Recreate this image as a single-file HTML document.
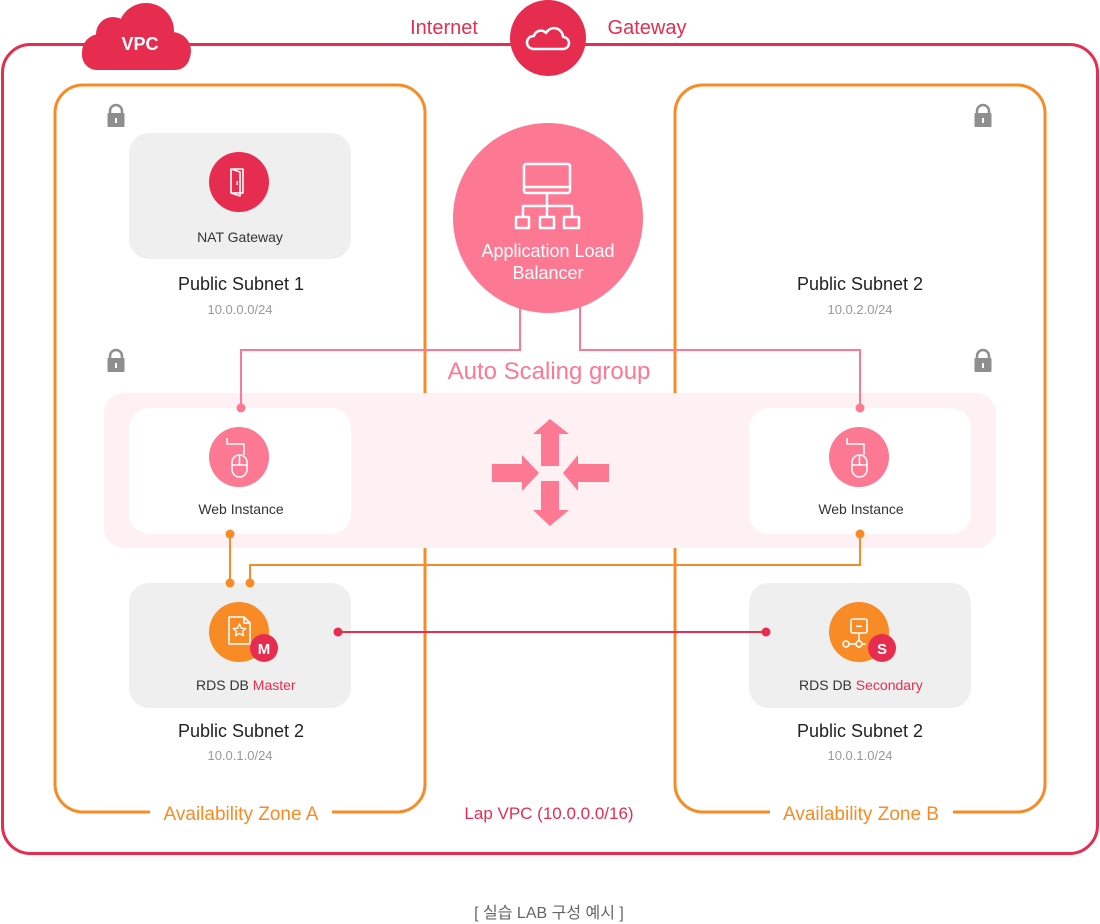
<!DOCTYPE html>
<html><head><meta charset="utf-8"><style>
html,body{margin:0;padding:0;background:#fff;}
svg{display:block;}
text{font-family:"Liberation Sans","Noto Sans CJK KR",sans-serif;}
</style></head><body>
<svg width="1100" height="924" viewBox="0 0 1100 924" xmlns="http://www.w3.org/2000/svg">
<!-- VPC outer -->
<rect x="2.5" y="44.5" width="1095" height="809" rx="28" fill="none" stroke="#e62c4f" stroke-width="3"/>
<!-- AZ A / B -->
<rect x="55" y="85" width="370" height="727" rx="28" fill="none" stroke="#f98b26" stroke-width="3"/>
<rect x="675" y="85" width="370" height="727" rx="28" fill="none" stroke="#f98b26" stroke-width="3"/>
<rect x="150" y="804" width="182" height="18" fill="#fff"/>
<rect x="770" y="804" width="183" height="18" fill="#fff"/>
<text x="241" y="820" font-size="19" fill="#f98b26" text-anchor="middle">Availability Zone A</text>
<text x="861" y="820" font-size="19" fill="#f98b26" text-anchor="middle">Availability Zone B</text>
<text x="549" y="819" font-size="17" fill="#e62c4f" text-anchor="middle">Lap VPC (10.0.0.0/16)</text>

<!-- VPC cloud -->
<g fill="#e62c4f">
<rect x="82" y="40" width="108" height="30" rx="15"/>
<circle cx="113" cy="34" r="17"/>
<circle cx="146" cy="31" r="28"/>
<circle cx="172" cy="51" r="19"/>
<circle cx="100" cy="52" r="18"/>
</g>
<text x="140" y="50" font-size="18" font-weight="bold" fill="#fff" text-anchor="middle">VPC</text>

<!-- Internet gateway -->
<text x="444" y="34" font-size="20" fill="#e62c4f" text-anchor="middle">Internet</text>
<text x="647" y="34" font-size="20" fill="#e62c4f" text-anchor="middle">Gateway</text>
<circle cx="548" cy="38" r="38" fill="#e62c4f"/>
<path d="M533 49 h30 a6 6 0 0 0 0 -12 a9 9 0 0 0 -17 -4 a7 7 0 0 0 -12 3 a6.5 6.5 0 0 0 -1 13 z" fill="none" stroke="#fff" stroke-width="2.5" stroke-linejoin="round"/>

<!-- locks -->
<g fill="#8e8e8e">
<path d="M110 114 v-3 a6 6 0 0 1 12 0 v3" fill="none" stroke="#8e8e8e" stroke-width="2.5"/>
<rect x="107.5" y="113" width="17" height="14" rx="1"/>
<rect x="115" y="118" width="2" height="5" fill="#fff"/>
</g>
<g fill="#8e8e8e" transform="translate(0,245)">
<path d="M110 114 v-3 a6 6 0 0 1 12 0 v3" fill="none" stroke="#8e8e8e" stroke-width="2.5"/>
<rect x="107.5" y="113" width="17" height="14" rx="1"/>
<rect x="115" y="118" width="2" height="5" fill="#fff"/>
</g>
<g fill="#8e8e8e" transform="translate(867,0)">
<path d="M110 114 v-3 a6 6 0 0 1 12 0 v3" fill="none" stroke="#8e8e8e" stroke-width="2.5"/>
<rect x="107.5" y="113" width="17" height="14" rx="1"/>
<rect x="115" y="118" width="2" height="5" fill="#fff"/>
</g>
<g fill="#8e8e8e" transform="translate(867,245)">
<path d="M110 114 v-3 a6 6 0 0 1 12 0 v3" fill="none" stroke="#8e8e8e" stroke-width="2.5"/>
<rect x="107.5" y="113" width="17" height="14" rx="1"/>
<rect x="115" y="118" width="2" height="5" fill="#fff"/>
</g>

<!-- NAT Gateway -->
<rect x="129" y="133" width="222" height="126" rx="20" fill="#efefef"/>
<circle cx="239" cy="182" r="30" fill="#e62c4f"/>
<path d="M231 169 h12 v24 h-12 z M231 169 l9 3 v24 l-9 -3" fill="none" stroke="#fff" stroke-width="1.6" stroke-linejoin="round"/>
<rect x="236.5" y="181" width="1.5" height="4" fill="#fff"/>
<text x="240" y="242" font-size="14" fill="#333" text-anchor="middle">NAT Gateway</text>
<text x="241" y="290" font-size="18" fill="#222" text-anchor="middle">Public Subnet 1</text>
<text x="240" y="314" font-size="13" fill="#999" text-anchor="middle">10.0.0.0/24</text>

<text x="860" y="290" font-size="18" fill="#222" text-anchor="middle">Public Subnet 2</text>
<text x="860" y="314" font-size="13" fill="#999" text-anchor="middle">10.0.2.0/24</text>

<!-- Auto scaling band -->
<text x="549" y="379" font-size="24" fill="#fd7892" text-anchor="middle">Auto Scaling group</text>
<rect x="104" y="393" width="892" height="155" rx="20" fill="#fff0f3"/>
<rect x="129" y="408" width="222" height="126" rx="20" fill="#fff"/>
<rect x="749" y="408" width="222" height="126" rx="20" fill="#fff"/>

<!-- ALB connectors -->
<path d="M520 300 V350 H241 V408" fill="none" stroke="#fd7892" stroke-width="2"/>
<path d="M580 300 V350 H860 V408" fill="none" stroke="#fd7892" stroke-width="2"/>
<circle cx="241" cy="408" r="4.5" fill="#fd7892"/>
<circle cx="860" cy="408" r="4.5" fill="#fd7892"/>

<!-- ALB -->
<circle cx="548" cy="218" r="95" fill="#fd7892"/>
<g fill="none" stroke="#fff" stroke-width="2.5" stroke-linejoin="round">
<rect x="524" y="164" width="46" height="29" rx="2"/>
<line x1="524" y1="187" x2="570" y2="187"/>
<path d="M547 193 V206 M523 217 V206 H572 V217 M547 206 V217"/>
<rect x="516" y="217" width="13" height="11"/>
<rect x="540" y="217" width="14" height="11"/>
<rect x="564" y="217" width="15" height="11"/>
</g>
<text x="548" y="257" font-size="18" fill="#fff" text-anchor="middle">Application Load</text>
<text x="548" y="279" font-size="18" fill="#fff" text-anchor="middle">Balancer</text>

<!-- arrows -->
<g fill="#fd7892">
<polygon points="550,419 569,434 559,434 559,466 541,466 541,434 533,434"/>
<polygon points="541,481 559,481 559,510 569,510 550,526 533,510 541,510"/>
<polygon points="492,464 522,464 522,455 539,473 522,491 522,482 492,482"/>
<polygon points="609,464 578,464 578,455 563,473 578,491 578,482 609,482"/>
</g>

<!-- Web instance icons -->
<g>
<circle cx="239" cy="457" r="30" fill="#fd7892"/>
<g fill="none" stroke="#fff" stroke-width="1.5" stroke-linejoin="round">
<path d="M227 438 V444 H244 V455"/>
<rect x="232" y="455" width="15" height="22" rx="7.5"/>
<path d="M232 465 H247 M239.5 455 V465"/>
</g>
<text x="241" y="514" font-size="14" fill="#333" text-anchor="middle">Web Instance</text>
</g>
<g transform="translate(620,0)">
<circle cx="239" cy="457" r="30" fill="#fd7892"/>
<g fill="none" stroke="#fff" stroke-width="1.5" stroke-linejoin="round">
<path d="M227 438 V444 H244 V455"/>
<rect x="232" y="455" width="15" height="22" rx="7.5"/>
<path d="M232 465 H247 M239.5 455 V465"/>
</g>
<text x="241" y="514" font-size="14" fill="#333" text-anchor="middle">Web Instance</text>
</g>

<!-- orange connectors -->
<path d="M230 534 V583" fill="none" stroke="#f98b26" stroke-width="2"/>
<path d="M250 583 V565 H860 V534" fill="none" stroke="#f98b26" stroke-width="2"/>

<!-- RDS boxes -->
<rect x="129" y="583" width="222" height="125" rx="20" fill="#efefef"/>
<rect x="749" y="583" width="222" height="125" rx="20" fill="#efefef"/>
<g fill="#f98b26">
<circle cx="230" cy="534" r="4.5"/>
<circle cx="230" cy="583" r="4.5"/>
<circle cx="250" cy="583" r="4.5"/>
<circle cx="860" cy="534" r="4.5"/>
</g>

<!-- red connector -->
<line x1="338" y1="632" x2="766" y2="632" stroke="#e62c4f" stroke-width="2"/>
<circle cx="338" cy="632" r="4.5" fill="#e62c4f"/>
<circle cx="766" cy="632" r="4.5" fill="#e62c4f"/>

<!-- RDS master -->
<circle cx="239" cy="632" r="30" fill="#f98b26"/>
<path d="M229 617 H244 L250 623 V644 H229 Z M244 617 V623 H250" fill="none" stroke="#fff" stroke-width="1.6" stroke-linejoin="round"/>
<polygon points="239.5,624 241.3,628.2 245.8,628.5 242.4,631.4 243.5,635.8 239.5,633.4 235.5,635.8 236.6,631.4 233.2,628.5 237.7,628.2" fill="none" stroke="#fff" stroke-width="1.3" stroke-linejoin="round"/>
<circle cx="264" cy="648" r="14" fill="#e62c4f"/>
<text x="264" y="654" font-size="15" font-weight="bold" fill="#fff" text-anchor="middle">M</text>
<text x="196" y="690" font-size="14" fill="#333">RDS DB <tspan fill="#e62c4f">Master</tspan></text>
<text x="241" y="737" font-size="18" fill="#222" text-anchor="middle">Public Subnet 2</text>
<text x="240" y="760" font-size="13" fill="#999" text-anchor="middle">10.0.1.0/24</text>

<!-- RDS secondary -->
<circle cx="859" cy="632" r="30" fill="#f98b26"/>
<g fill="none" stroke="#fff" stroke-width="1.6" stroke-linejoin="round">
<rect x="851" y="619" width="16" height="14" rx="2"/>
<path d="M859 633 V641 M849 644 H866"/>
<circle cx="846" cy="644" r="3" fill="#f98b26"/>
<circle cx="859" cy="644" r="3" fill="#f98b26"/>
</g>
<rect x="856" y="625.5" width="6" height="1.6" fill="#fff"/>
<circle cx="882" cy="648" r="14" fill="#e62c4f"/>
<text x="882" y="654" font-size="15" font-weight="bold" fill="#fff" text-anchor="middle">S</text>
<text x="799" y="690" font-size="14" fill="#333">RDS DB <tspan fill="#e62c4f">Secondary</tspan></text>
<text x="860" y="737" font-size="18" fill="#222" text-anchor="middle">Public Subnet 2</text>
<text x="860" y="760" font-size="13" fill="#999" text-anchor="middle">10.0.1.0/24</text>

<!-- caption -->
<text x="549" y="918" font-size="16" fill="#666" text-anchor="middle">[ 실습 LAB 구성 예시 ]</text>
</svg>
</body></html>
